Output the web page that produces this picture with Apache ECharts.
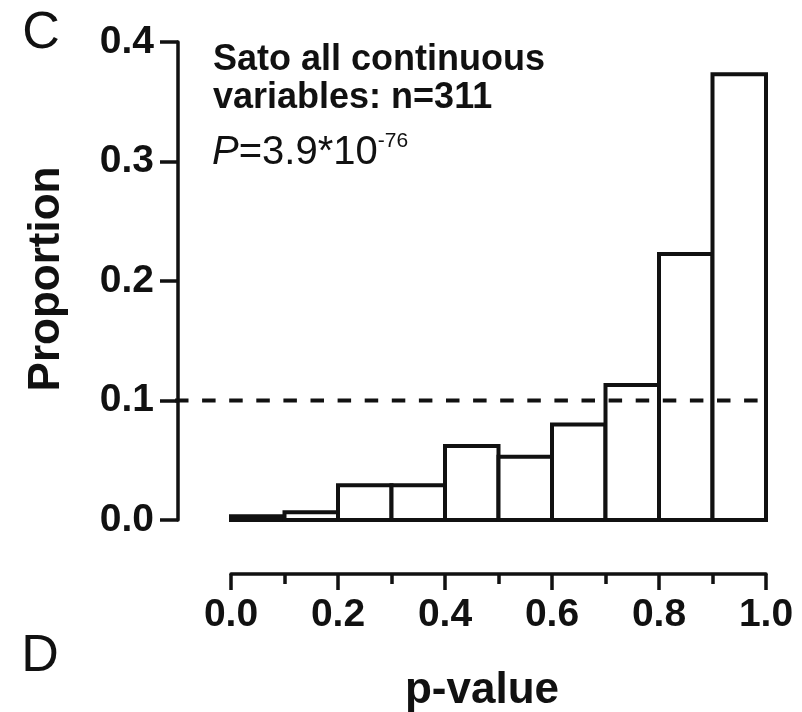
<!DOCTYPE html>
<html>
<head>
<meta charset="utf-8">
<title>p-value histogram</title>
<script src="https://cdn.jsdelivr.net/npm/echarts@6/dist/echarts.min.js"></script>
<style>
  html, body { margin: 0; padding: 0; background: #fff; }
  #chart { width: 802px; height: 712px; }
</style>
</head>
<body>
<div id="chart"></div>
<script>
// histogram bins (p-value) and proportion per bin
var binStart = [0.0, 0.1, 0.2, 0.3, 0.4, 0.5, 0.6, 0.7, 0.8, 0.9];
var binEnd = [0.1, 0.2, 0.3, 0.4, 0.5, 0.6, 0.7, 0.8, 0.9, 1.0];
var proportion = [0.0032, 0.0064, 0.029, 0.029, 0.062, 0.053, 0.080, 0.113, 0.2225, 0.373];
// expected uniform level
var refLevel = [0.1];
var yTicks = [0, 0.4, 0.1];   // min, max, step
var xTicks = [0, 1, 0.2];

var FONT = '"Liberation Sans", Arial, sans-serif';
var INK = '#111';

var barData = binStart.map(function (s, i) {
  return [s, binEnd[i], proportion[i]];
});

var chart = echarts.init(document.getElementById('chart'), null, { renderer: 'canvas' });

chart.setOption({
  backgroundColor: '#fff',
  animation: false,
  grid: { left: 231, right: 36, top: 42, bottom: 192 },
  xAxis: {
    type: 'value',
    min: xTicks[0],
    max: xTicks[1],
    interval: xTicks[2],
    offset: 54,
    axisLine: { onZero: false, lineStyle: { color: INK, width: 3.5 } },
    axisTick: { length: 16, lineStyle: { color: INK, width: 3.5 } },
    minorTick: { show: true, splitNumber: 2, length: 10, lineStyle: { color: INK, width: 3.5 } },
    splitLine: { show: false },
    axisLabel: {
      margin: 22,
      color: INK,
      fontSize: 39,
      fontWeight: 'bold',
      fontFamily: FONT,
      formatter: function (v) { return v.toFixed(1); }
    }
  },
  yAxis: {
    type: 'value',
    min: yTicks[0],
    max: yTicks[1],
    interval: yTicks[2],
    offset: 53,
    axisLine: { show: true, onZero: false, lineStyle: { color: INK, width: 3.5 } },
    axisTick: { show: true, length: 18, lineStyle: { color: INK, width: 3.5 } },
    splitLine: { show: false },
    axisLabel: {
      margin: 24,
      color: INK,
      fontSize: 39,
      fontWeight: 'bold',
      fontFamily: FONT,
      formatter: function (v) { return v.toFixed(1); }
    }
  },
  series: [
    {
      type: 'custom',
      name: 'bins',
      data: barData,
      encode: { x: [0, 1], y: 2 },
      renderItem: function (params, api) {
        var p0 = api.coord([api.value(0), 0]);
        var p1 = api.coord([api.value(1), api.value(2)]);
        return {
          type: 'rect',
          shape: { x: p0[0], y: p1[1], width: p1[0] - p0[0], height: p0[1] - p1[1] },
          style: { fill: '#fff', stroke: INK, lineWidth: 4 }
        };
      },
      z: 2
    },
    {
      type: 'custom',
      name: 'uniform',
      data: refLevel.map(function (v) { return [xTicks[0], xTicks[1], v]; }),
      encode: { x: [0, 1], y: 2 },
      clip: false,
      renderItem: function (params, api) {
        var a = api.coord([api.value(0), api.value(2)]);
        var b = api.coord([api.value(1), api.value(2)]);
        return {
          type: 'line',
          // line starts at the y axis, left of the plot area
          shape: { x1: a[0] - 56, y1: a[1], x2: b[0], y2: b[1] },
          style: { stroke: INK, lineWidth: 4, lineDash: [13.5, 13.6] }
        };
      },
      z: 5
    }
  ],
  graphic: [
    {
      type: 'text', x: 41, y: 34,
      style: { text: 'C', font: '52px ' + FONT, fill: INK, textAlign: 'center', textVerticalAlign: 'middle' }
    },
    {
      type: 'text', x: 40, y: 657,
      style: { text: 'D', font: '52px ' + FONT, fill: INK, textAlign: 'center', textVerticalAlign: 'middle' }
    },
    {
      type: 'text', x: 213, y: 60,
      style: { text: 'Sato all continuous', font: 'bold 36px ' + FONT, fill: INK, textAlign: 'left', textVerticalAlign: 'middle' }
    },
    {
      type: 'text', x: 213, y: 98,
      style: { text: 'variables: n=311', font: 'bold 36px ' + FONT, fill: INK, textAlign: 'left', textVerticalAlign: 'middle' }
    },
    {
      type: 'text', x: 212, y: 153,
      style: {
        text: '{i|P}{m|=3.9*10}{s|-76}',
        fill: INK,
        textAlign: 'left',
        textVerticalAlign: 'middle',
        rich: {
          i: { fontSize: 40, fontStyle: 'italic', fontFamily: FONT, fill: INK, lineHeight: 44 },
          m: { fontSize: 40, fontFamily: FONT, fill: INK, lineHeight: 44 },
          s: { fontSize: 21, fontFamily: FONT, fill: INK, verticalAlign: 'top', lineHeight: 44 }
        }
      }
    },
    {
      type: 'text', x: 47, y: 279, rotation: Math.PI / 2,
      style: { text: 'Proportion', font: 'bold 44px ' + FONT, fill: INK, textAlign: 'center', textVerticalAlign: 'middle' }
    },
    {
      type: 'text', x: 482, y: 691,
      style: { text: 'p-value', font: 'bold 44px ' + FONT, fill: INK, textAlign: 'center', textVerticalAlign: 'middle' }
    }
  ]
});
</script>
</body>
</html>
